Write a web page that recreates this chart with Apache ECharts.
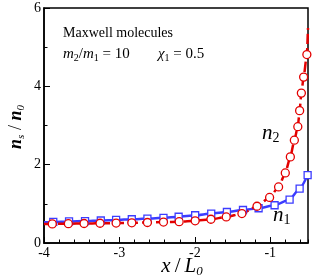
<!DOCTYPE html>
<html>
<head>
<meta charset="utf-8">
<script src="https://cdn.jsdelivr.net/npm/echarts@6/dist/echarts.min.js"></script>
<style>html,body{margin:0;padding:0;background:#fff}#c{width:315px;height:280px}</style>
</head>
<body>
<div id="c"></div>
<script>
// n1 (squares, blue solid) marker positions
const n1X = [-3.877,-3.668,-3.456,-3.247,-3.044,-2.836,-2.629,-2.416,-2.215,-1.996,-1.783,-1.575,-1.362,-1.155,-0.943,-0.744,-0.611,-0.505];
const n1Y = [0.537,0.550,0.560,0.575,0.588,0.606,0.624,0.644,0.670,0.708,0.752,0.792,0.843,0.887,0.964,1.109,1.390,1.731];
// n2 (circles, red dashed) marker positions
const n2X = [-3.890,-3.677,-3.469,-3.257,-3.044,-2.836,-2.629,-2.416,-2.208,-1.996,-1.787,-1.584,-1.376,-1.176,-1.009,-0.890,-0.801,-0.734,-0.681,-0.635,-0.611,-0.588,-0.558,-0.515];
const n2Y = [0.488,0.493,0.498,0.504,0.509,0.516,0.524,0.534,0.544,0.567,0.606,0.665,0.752,0.938,1.163,1.431,1.789,2.198,2.625,2.970,3.379,3.827,4.236,4.811];
// curve end points
const n1Start = [-4, 0.530];
const n2Start = [-4, 0.485];
const n2End = [-0.5, 5.49];
// axis ticks
const xTicks = [-4, -3, -2, -1];
const yTicks = [0, 2, 4, 6];

const zip = (xs, ys) => xs.map((x, i) => [x, ys[i]]);
const n1Pts = zip(n1X, n1Y);
const n2Pts = zip(n2X, n2Y);
const n1Line = [n1Start].concat(n1Pts);
const n2Line = [n2Start].concat(n2Pts, [n2End]);

const RED = '#e30000', BLUE = '#3c3cff';
const SERIF = '"Liberation Serif", "DejaVu Serif", serif';

const chart = echarts.init(document.getElementById('c'), null, {renderer: 'canvas'});
const mkRich = (base, sub, pad) => ({
  i: {fontFamily: SERIF, fontStyle: 'italic', fontSize: base, lineHeight: base + 4, fill: '#000', verticalAlign: 'middle'},
  r: {fontFamily: SERIF, fontSize: base, lineHeight: base + 4, fill: '#000', verticalAlign: 'middle', padding: [0, pad || 0]},
  s: {fontFamily: SERIF, fontSize: sub, lineHeight: sub, fill: '#000', verticalAlign: 'bottom'},
  si: {fontFamily: SERIF, fontStyle: 'italic', fontSize: sub, lineHeight: sub, fill: '#000', verticalAlign: 'bottom'}
});
const mkRichBold = (base, sub) => ({
  i: {fontFamily: SERIF, fontStyle: 'italic', fontWeight: 'bold', fontSize: base, lineHeight: base + 4, fill: '#000', verticalAlign: 'middle'},
  r: {fontFamily: SERIF, fontSize: base, lineHeight: base + 4, fill: '#000', verticalAlign: 'middle'},
  s: {fontFamily: SERIF, fontStyle: 'italic', fontSize: sub, lineHeight: sub, fill: '#000', verticalAlign: 'bottom'}
});

const option = {
  animation: false,
  backgroundColor: '#fff',
  grid: {left: 44, top: 8, right: 7, bottom: 37, show: true, borderColor: '#000', borderWidth: 1.5, backgroundColor: 'transparent'},
  xAxis: [
    {type: 'value', min: -4, max: -0.5, interval: 1, position: 'bottom',
     axisLine: {lineStyle: {color: '#000', width: 1.5}},
     axisTick: {inside: true, length: 6, lineStyle: {color: '#000', width: 1}, customValues: xTicks},
     axisLabel: {color: '#000', fontFamily: SERIF, fontSize: 14, margin: 3, customValues: xTicks, formatter: v => String(v)},
     splitLine: {show: false}},
    {type: 'value', min: -4, max: -0.5, interval: 0.2, position: 'bottom',
     axisLine: {show: false},
     axisTick: {inside: true, length: 3.5, lineStyle: {color: '#000', width: 1}},
     axisLabel: {show: false}, splitLine: {show: false}}
  ],
  yAxis: [
    {type: 'value', min: 0, max: 6, interval: 2, position: 'left',
     axisLine: {show: true, lineStyle: {color: '#000', width: 1.5}},
     axisTick: {show: true, inside: true, length: 6, lineStyle: {color: '#000', width: 1}},
     axisLabel: {color: '#000', fontFamily: SERIF, fontSize: 14, margin: 3},
     splitLine: {show: false}},
    {type: 'value', min: 0, max: 6, interval: 1, position: 'left',
     axisLine: {show: false},
     axisTick: {show: true, inside: true, length: 3.5, lineStyle: {color: '#000', width: 1}},
     axisLabel: {show: false}, splitLine: {show: false}}
  ],
  series: [
    {type: 'line', data: n1Line, xAxisIndex: 0, yAxisIndex: 0, showSymbol: false, smooth: 0.2, smoothMonotone: 'x',
     lineStyle: {color: BLUE, width: 2.5}, z: 2, silent: true},
    {type: 'line', data: n2Line, xAxisIndex: 0, yAxisIndex: 0, showSymbol: false, smooth: 0.2, smoothMonotone: 'x',
     lineStyle: {color: RED, width: 2.5, type: [10, 4]}, z: 3, silent: true},
    {type: 'scatter', data: n1Pts, symbol: 'rect', symbolSize: 7,
     itemStyle: {color: '#fff', borderColor: BLUE, borderWidth: 1.3, opacity: 1}, z: 4, silent: true},
    {type: 'scatter', data: n2Pts, symbol: 'circle', symbolSize: 8,
     itemStyle: {color: '#fff', borderColor: RED, borderWidth: 1.3, opacity: 1}, z: 5, silent: true}
  ],
  graphic: [
    {type: 'text', x: 63, y: 33, z: 10, style: {text: 'Maxwell molecules', font: '14px ' + SERIF, fill: '#000', align: 'left', verticalAlign: 'middle'}},
    {type: 'text', x: 63, y: 54, z: 10, style: {text: '{i|m}{s|2}{r|/}{i|m}{s|1}{r| = 10}', rich: mkRich(15, 10), align: 'left', verticalAlign: 'middle'}},
    {type: 'text', x: 158, y: 54, z: 10, style: {text: '{i|χ}{s|1}{r| = 0.5}', rich: mkRich(15, 10), align: 'left', verticalAlign: 'middle'}},
    {type: 'text', x: 262, y: 133, z: 10, style: {text: '{i|n}{s|2}', rich: mkRich(21, 14), align: 'left', verticalAlign: 'middle'}},
    {type: 'text', x: 273, y: 215, z: 10, style: {text: '{i|n}{s|1}', rich: mkRich(21, 14), align: 'left', verticalAlign: 'middle'}},
    {type: 'text', x: 182, y: 266, z: 10, style: {text: '{i|x}{r|/}{i|L}{si|0}', rich: mkRich(21, 13, 4), align: 'center', verticalAlign: 'middle'}},
    {type: 'text', x: 16, y: 127, rotation: Math.PI / 2, z: 10, style: {text: '{i|n}{s|s}{r| / }{i|n}{s|0}', rich: mkRichBold(18, 11), align: 'center', verticalAlign: 'middle'}}
  ]
};
chart.setOption(option);
</script>
</body>
</html>
